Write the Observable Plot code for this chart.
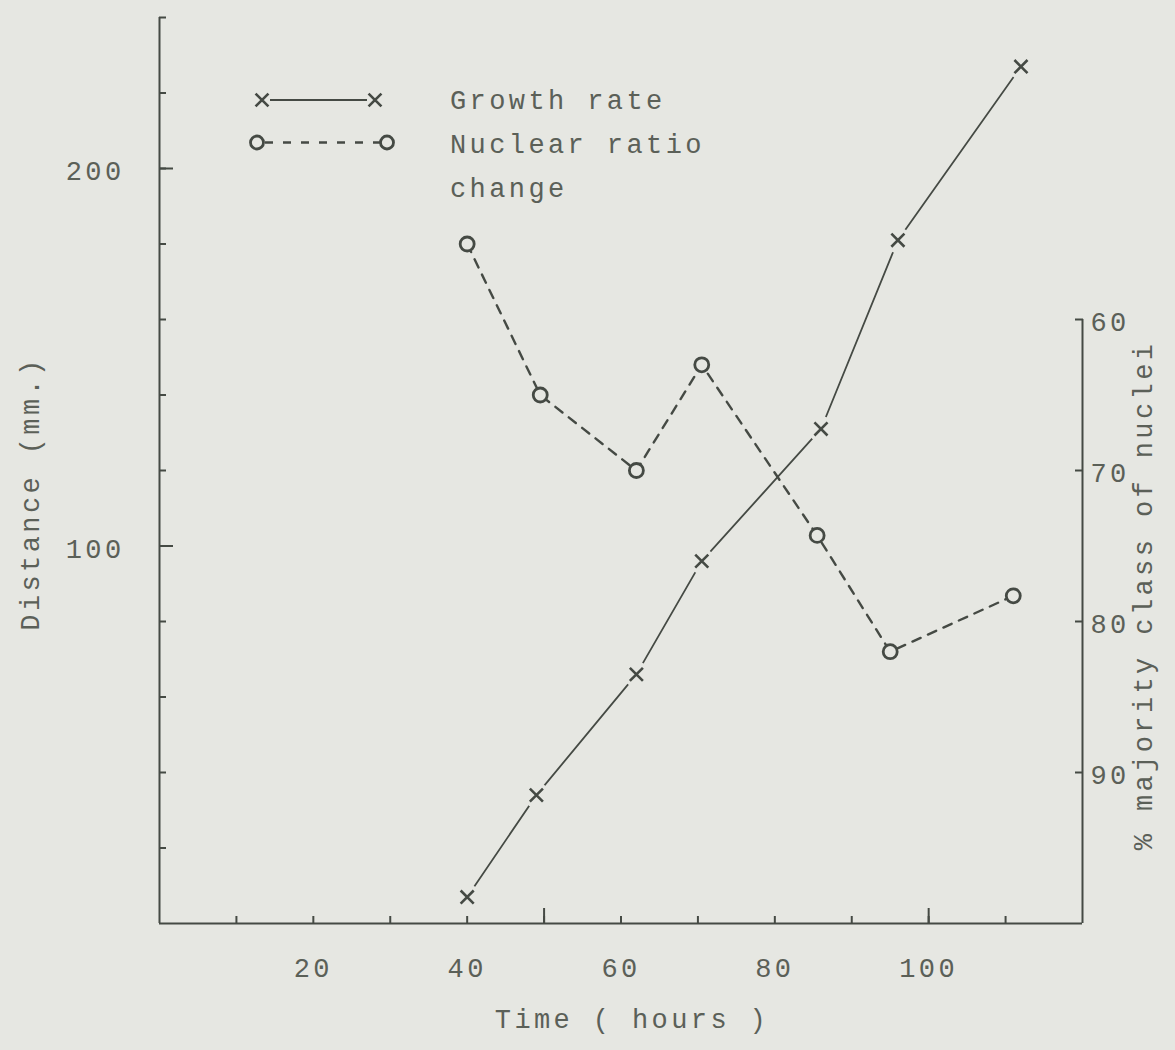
<!DOCTYPE html>
<html>
<head>
<meta charset="utf-8">
<script src="https://cdn.jsdelivr.net/npm/d3@7"></script>
<script src="https://cdn.jsdelivr.net/npm/@observablehq/plot@0.6"></script>
<style>
  html, body { margin: 0; padding: 0; background: #e6e7e2; }
  #chart { position: relative; width: 1175px; height: 1050px; }
</style>
</head>
<body>
<div id="chart"></div>
<script>
// ---- data ----
const timeGrowth   = [40, 49, 62, 70.5, 86, 96, 112];        // hours
const distanceMm   = [7, 34, 66, 96, 131, 181, 227];         // Distance (mm.)
const timeNuclear  = [40, 49.5, 62, 70.5, 85.5, 95, 111];    // hours
const majorityPct  = [55, 65, 70, 63, 74.3, 82, 78.3];       // % majority class of nuclei

const xTicks      = [10, 20, 30, 40, 50, 60, 70, 80, 90, 100, 110];
const xLongTicks  = [50, 100];
const xLabels     = [20, 40, 60, 80, 100];
const yTicks      = [20, 40, 60, 80, 100, 120, 140, 160, 180, 200, 220, 240];
const yLongTicks  = [100, 200];
const yLabels     = [100, 200];
const rightTicks  = [60, 70, 80, 90];
const rightLabels = [60, 70, 80, 90];

const xDomain = [0, 120];
const yDomain = [0, 240];
const rightDomain = [60, 100];   // reversed axis: 60 at top, 100 at bottom

const seriesGrowth  = "Growth rate";
const seriesNuclear = ["Nuclear ratio", "change"];
const titleX     = "Time ( hours )";
const titleY     = "Distance (mm.)";
const titleRight = "% majority class of nuclei";

// ---- styles ----
const PAPER = "#e6e7e2";
const INK   = "#454a44";
const TEXT  = "#5b6058";

// right axis (percent) expressed on the left (distance) scale: 100% -> 0, 60% -> 160
const rightToLeft = d3.scaleLinear().domain([rightDomain[1], rightDomain[0]]).range([0, 160]);

const growth  = timeGrowth.map((t, i) => ({time: t, value: distanceMm[i]}));
const nuclear = timeNuclear.map((t, i) => ({time: t, value: rightToLeft(majorityPct[i])}));

const svg = Plot.plot({
  width: 1175,
  height: 1050,
  marginLeft: 159,
  marginRight: 93,
  marginTop: 17,
  marginBottom: 127,
  style: {
    background: "transparent",
    fontFamily: "'Liberation Mono', 'DejaVu Sans Mono', monospace",
    fontSize: "27px",
    letterSpacing: "3.4px",
    color: TEXT,
    overflow: "visible"
  },
  x: {domain: xDomain},
  y: {domain: yDomain},
  marks: [
    // axis lines
    Plot.ruleY([yDomain[0]], {stroke: INK, strokeWidth: 2}),
    Plot.ruleX([xDomain[0]], {stroke: INK, strokeWidth: 2}),
    Plot.ruleX([xDomain[1]], {y1: rightToLeft(rightDomain[1]), y2: rightToLeft(rightDomain[0]), stroke: INK, strokeWidth: 2}),

    // bottom axis: inward ticks + labels
    Plot.axisX({ticks: xTicks, tickSize: -7, tickFormat: () => "", stroke: INK, strokeWidth: 2, label: null}),
    Plot.axisX({ticks: xLongTicks, tickSize: -15, tickFormat: () => "", stroke: INK, strokeWidth: 2, label: null}),
    Plot.axisX({ticks: xLabels, tickSize: 0, tickPadding: 34, fill: TEXT, label: null}),

    // left axis
    Plot.axisY({ticks: yTicks, tickSize: -7, tickFormat: () => "", stroke: INK, strokeWidth: 2, label: null}),
    Plot.axisY({ticks: yLongTicks, tickSize: -14, tickFormat: () => "", stroke: INK, strokeWidth: 2, label: null}),
    Plot.axisY({ticks: yLabels, tickSize: 0, tickPadding: 35, dy: 3, fill: TEXT, label: null}),

    // right axis
    Plot.axisY({anchor: "right", ticks: rightTicks.map(rightToLeft), tickSize: -8, tickFormat: () => "", stroke: INK, strokeWidth: 2, label: null}),
    Plot.axisY({anchor: "right", ticks: rightLabels.map(rightToLeft), tickSize: 0, tickPadding: 8, dy: 3,
      tickFormat: d => Math.round(rightToLeft.invert(d)), fill: TEXT, label: null}),

    // axis titles
    Plot.text([titleX], {frameAnchor: "bottom", dx: 11, dy: 104, fill: TEXT, textAnchor: "middle"}),
    Plot.text([titleY], {frameAnchor: "left", dx: -129, dy: 23, rotate: -90, fill: TEXT, textAnchor: "middle"}),
    Plot.text([titleRight], {frameAnchor: "right", dx: 61, dy: 125, rotate: -90, fill: TEXT, textAnchor: "middle"}),

    // growth rate (solid, x markers with small gaps)
    Plot.line(growth, {x: "time", y: "value", stroke: INK, strokeWidth: 1.8}),
    Plot.dot(growth, {x: "time", y: "value", r: 13, fill: PAPER, stroke: "none"}),
    Plot.dot(growth, {x: "time", y: "value", symbol: "times", r: 6, stroke: INK, strokeWidth: 2.6}),

    // nuclear ratio change (dashed, circles)
    Plot.line(nuclear, {x: "time", y: "value", stroke: INK, strokeWidth: 2.4, strokeDasharray: "9,8"}),
    Plot.dot(nuclear, {x: "time", y: "value", r: 7, fill: PAPER, stroke: INK, strokeWidth: 2.8})
  ]
});

document.getElementById("chart").appendChild(svg);

// ---- legend (inside the frame, upper left) ----
const lg = d3.select(svg).append("g").attr("class", "legend");
const times = d3.symbol(d3.symbolTimes, 110)();
lg.append("line").attr("x1", 270).attr("x2", 367).attr("y1", 100).attr("y2", 100)
  .attr("stroke", INK).attr("stroke-width", 2);
[262, 375].forEach(x => lg.append("path").attr("d", times)
  .attr("transform", `translate(${x},100)`).attr("fill", "none").attr("stroke", INK).attr("stroke-width", 2.6));
lg.append("line").attr("x1", 265).attr("x2", 380).attr("y1", 142.5).attr("y2", 142.5)
  .attr("stroke", INK).attr("stroke-width", 2.4).attr("stroke-dasharray", "8,10");
[257, 387].forEach(x => lg.append("circle").attr("cx", x).attr("cy", 142.5).attr("r", 6.5)
  .attr("fill", PAPER).attr("stroke", INK).attr("stroke-width", 2.8));
[[seriesGrowth, 109], [seriesNuclear[0], 153], [seriesNuclear[1], 197]].forEach(([t, y]) =>
  lg.append("text").attr("x", 450).attr("y", y).attr("text-anchor", "start").attr("fill", TEXT).text(t));
</script>
</body>
</html>
